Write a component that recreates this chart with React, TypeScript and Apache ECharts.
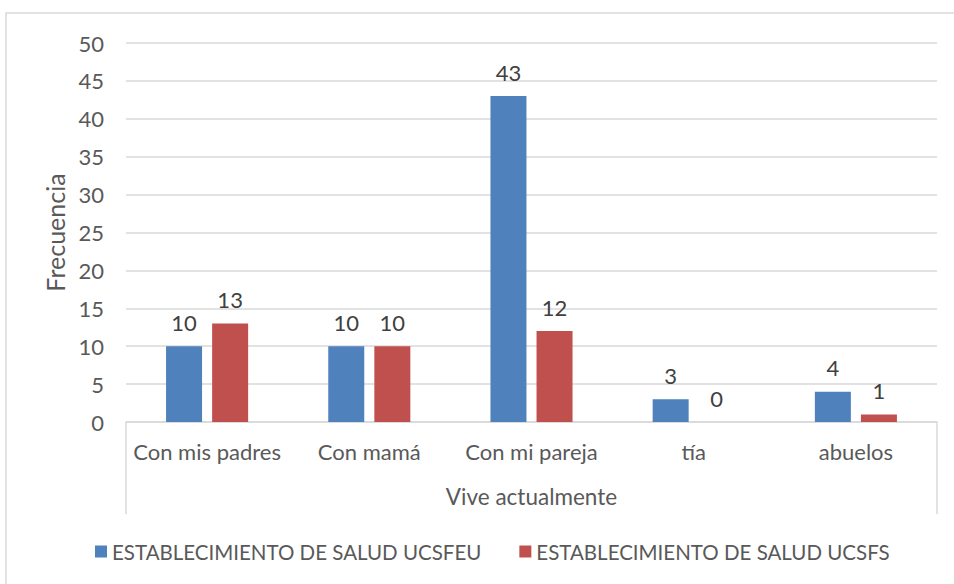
import React, { useEffect, useRef } from "react";
import * as echarts from "echarts";

const categories = ["Con mis padres", "Con mamá", "Con mi pareja", "tía", "abuelos"];
const seriesNames = ["ESTABLECIMIENTO DE SALUD UCSFEU", "ESTABLECIMIENTO DE SALUD UCSFS"];
const ucsfeu = [10, 10, 43, 3, 4];
const ucsfs = [13, 10, 12, 0, 1];
const yTicks = { min: 0, max: 50, interval: 5 };

const FONT = "Lato";
const TEXT = "#595959";
const FS = 22;

export default function App() {
  const ref = useRef<HTMLDivElement>(null);
  useEffect(() => {
    if (!ref.current) return;
    const chart = echarts.init(ref.current, undefined, { renderer: "svg" });
    const label = {
      show: true,
      position: "top",
      distance: 13,
      color: "#404040",
      fontFamily: FONT,
      fontSize: FS,
    };
    chart.setOption({
      animation: false,
      textStyle: { fontFamily: FONT },
      grid: { left: 126, right: 17, top: 43, bottom: 162 },
      legend: {
        left: 90,
        top: 536,
        itemWidth: 12,
        itemHeight: 12,
        itemGap: 38,
        icon: "rect",
        textStyle: { fontFamily: FONT, fontSize: 20.5, color: TEXT },
        data: seriesNames,
      },
      xAxis: {
        type: "category",
        data: categories,
        axisLine: { lineStyle: { color: "#d9d9d9", width: 1.5 } },
        axisTick: { show: false },
        axisLabel: { color: TEXT, fontFamily: FONT, fontSize: FS, margin: 18, interval: 0 },
        name: "Vive actualmente",
        nameLocation: "middle",
        nameGap: 63,
        nameTextStyle: { color: TEXT, fontFamily: FONT, fontSize: 22.5 },
      },
      yAxis: {
        type: "value",
        min: yTicks.min,
        max: yTicks.max,
        interval: yTicks.interval,
        axisLine: { show: false },
        axisTick: { show: false },
        splitLine: { lineStyle: { color: "#d9d9d9", width: 1.5 } },
        axisLabel: { color: TEXT, fontFamily: FONT, fontSize: FS, margin: 22 },
        name: "Frecuencia",
        nameLocation: "middle",
        nameGap: 58,
        nameTextStyle: { color: TEXT, fontFamily: FONT, fontSize: 25 },
      },
      series: [
        {
          name: seriesNames[0],
          type: "bar",
          data: ucsfeu,
          barWidth: 36,
          barGap: "28%",
          itemStyle: { color: "#4F81BD" },
          label,
        },
        {
          name: seriesNames[1],
          type: "bar",
          data: ucsfs,
          barWidth: 36,
          itemStyle: { color: "#C0504D" },
          label,
        },
      ],
      graphic: [
        {
          type: "rect",
          shape: { x: 6, y: 13, width: 1000, height: 1000 },
          style: { fill: "none", stroke: "#d9d9d9", lineWidth: 1.5 },
          silent: true,
        },
        {
          type: "line",
          shape: { x1: 126, y1: 422, x2: 126, y2: 514 },
          style: { stroke: "#d9d9d9", lineWidth: 1.5 },
        },
        {
          type: "line",
          shape: { x1: 937, y1: 422, x2: 937, y2: 514 },
          style: { stroke: "#d9d9d9", lineWidth: 1.5 },
        },
      ],
    });
    return () => chart.dispose();
  }, []);
  return <div ref={ref} style={{ width: 954, height: 584, position: "absolute", left: 0, top: 0 }} />;
}
